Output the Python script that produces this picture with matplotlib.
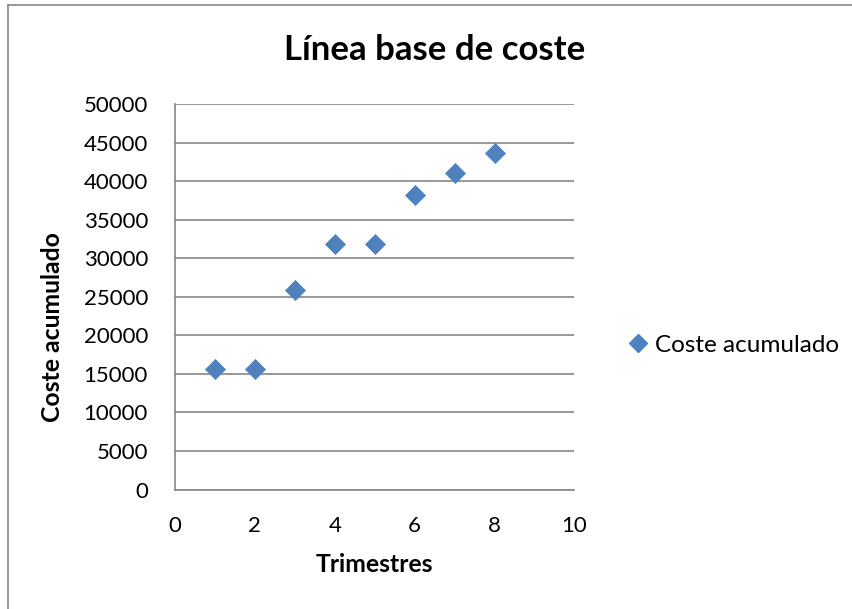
import matplotlib
matplotlib.use('Agg')
from matplotlib import pyplot as plt
from matplotlib.lines import Line2D

# Coste acumulado por trimestre
trimestres = [1, 2, 3, 4, 5, 6, 7, 8]
coste_acumulado = [15600, 15600, 25900, 31900, 31900, 38200, 41000, 43650]
y_ticks = [0, 5000, 10000, 15000, 20000, 25000, 30000, 35000, 40000, 45000, 50000]
x_ticks = [0, 2, 4, 6, 8, 10]

plt.rcParams['font.family'] = ['Lato', 'DejaVu Sans']
gris = '#868686'
azul = '#4F81BD'

W, H = 853, 609
fig = plt.figure(figsize=(W / 100, H / 100), dpi=100)

# marco exterior del gráfico (solo visible arriba y a la izquierda)
fig.add_artist(Line2D([8 / W, 8 / W], [0, 1 - 5 / H], color=gris, lw=1.2, transform=fig.transFigure))
fig.add_artist(Line2D([8 / W, 1], [1 - 5 / H, 1 - 5 / H], color=gris, lw=1.2, transform=fig.transFigure))

ax = fig.add_axes([175 / W, 1 - 489.5 / H, (574.5 - 175) / W, (489.5 - 104) / H])
ax.scatter(trimestres, coste_acumulado, marker='D', s=105, color=azul,
           edgecolor=azul, linewidth=0.5, zorder=3, label='Coste acumulado')

ax.set_xlim(0, 10)
ax.set_ylim(0, 50000)
ax.set_xticks(x_ticks)
ax.set_yticks(y_ticks)
ax.tick_params(axis='both', length=0, labelsize=16, colors='black')
ax.tick_params(axis='y', pad=19.5)
ax.tick_params(axis='x', pad=19)
ax.yaxis.grid(True, color=gris, lw=1.2)
ax.set_axisbelow(True)
for lado in ['top', 'right']:
    ax.spines[lado].set_visible(False)
for lado in ['left', 'bottom']:
    ax.spines[lado].set_color(gris)
    ax.spines[lado].set_linewidth(1.2)

fig.text(435 / W, 1 - 50 / H, 'Línea base de coste', ha='center', va='center',
         fontsize=25, fontweight='bold')
fig.text(374.5 / W, 1 - 564 / H, 'Trimestres', ha='center', va='center',
         fontsize=17.8, fontweight='bold')
fig.text(53 / W, 1 - 327 / H, 'Coste acumulado', ha='center', va='center',
         rotation=90, fontsize=17.8, fontweight='bold')

handle = Line2D([], [], marker='D', ls='none', color=azul, markersize=9.2)
fig.legend([handle], ['Coste acumulado'], loc='center left',
           bbox_to_anchor=(626 / W, 1 - 345 / H), frameon=False, fontsize=17.5,
           handlelength=1.0, handletextpad=0.2, borderpad=0, borderaxespad=0)

plt.savefig('out.png', dpi=100)
